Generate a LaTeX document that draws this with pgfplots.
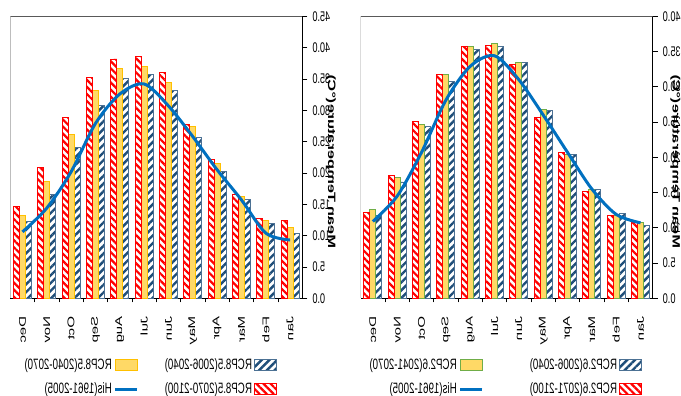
\documentclass[border=0pt]{standalone}
\usepackage{pgfplots}
\pgfplotsset{compat=1.18}
\usepackage{pgfplotstable}
\usepackage{graphicx}
\usepackage{fontspec}
\setmainfont{Liberation Sans}[FakeStretch=0.65]
\newfontfamily\plainsans{Liberation Sans}
\usetikzlibrary{patterns.meta}
\definecolor{hisblue}{HTML}{0070C0}
\definecolor{navy}{HTML}{1F4E79}
\definecolor{gold}{HTML}{FFD966}
\definecolor{goldedge}{HTML}{FFC000}
\definecolor{olive}{HTML}{70AD47}
\newcommand\sq[1]{\scalebox{1}[0.65]{#1}}

% RCP2.6 (left panel in original orientation)
\pgfplotstableread{
m  blue  yellow red   his
0  10.3  10.7   10.9  10.7
1  12.0  11.8   11.7  11.9
2  15.4  15.4   15.2  15.5
3  20.4  20.4   20.7  20.7
4  26.6  26.8   25.7  26.0
5  33.4  33.4   33.2  31.0
6  35.7  36.1   35.9  34.4
7  35.3  35.7   35.7  32.9
8  30.8  31.7   31.7  28.1
9  24.4  24.7   25.1  20.7
10 16.5  17.1   17.4  14.5
11 11.8  12.6   12.2  10.9
}\rcpA

% RCP8.5 (right panel in original orientation)
\pgfplotstableread{
m  blue  yellow red   his
0  10.3  11.3   12.4  9.3
1  12.0  12.4   12.8  10.4
2  15.8  16.2   16.6  15.7
3  20.2  21.5   22.1  20.5
4  25.7  27.4   27.8  25.8
5  33.2  34.4   36.1  30.7
6  35.7  37.0   38.6  34.2
7  35.1  36.7   38.2  32.6
8  30.8  33.2   35.3  27.9
9  24.0  26.2   28.9  20.2
10 16.5  18.7   20.9  14.4
11 12.2  13.2   14.6  10.6
}\rcpB

\pgfplotsset{
  mychart/.style={
    width=292bp, height=282bp, scale only axis,
    ybar=0pt, bar width=6bp,
    xmin=-0.5, xmax=11.5, ymin=0,
    xtick={0,...,11},
    xticklabels={\sq{Jan},\sq{Feb},\sq{Mar},\sq{Apr},\sq{May},\sq{Jun},\sq{Jul},\sq{Aug},\sq{Sep},\sq{Oct},\sq{Nov},\sq{Dec}},
    x tick label style={font=\plainsans\fontsize{15bp}{17bp}\selectfont, rotate=-90, anchor=west, inner sep=0pt},
    xticklabel shift=13bp,
    minor x tick num=1,
    major x tick style={draw=none},
    minor x tick style={black, line width=0.8bp},
    minor tick length=4bp,
    major tick length=5bp,
    major y tick style={black, line width=0.8bp, xshift=-5bp},
    y tick label style={font=\fontsize{14bp}{16bp}\selectfont, inner sep=0pt,
      /pgf/number format/.cd, fixed, fixed zerofill, precision=1, assume math mode=true},
    yticklabel shift=10bp,
    axis lines*=left,
    axis line style={black, line width=1bp},
    y label style={anchor=center,
      font=\plainsans\bfseries\fontsize{16.4bp}{18bp}\selectfont},
    legend columns=2,
    legend style={draw=none, fill=none, inner sep=0pt, row sep=8bp,
      at={(axis description cs:0,0)}, anchor=north west,
      font=\fontsize{15bp}{17bp}\selectfont,
      cells={anchor=west}},
  },
  redbar/.style={draw=red, line width=0.8bp,
    pattern={Lines[angle=-45,distance=5bp,line width=2.2bp]}, pattern color=red,
    legend image code/.code={\draw[##1] (0bp,-5.5bp) rectangle (22bp,5.5bp);}},
  bluebar/.style={draw=navy!80, line width=0.8bp,
    pattern={Lines[angle=45,distance=5.5bp,line width=2.4bp]}, pattern color=navy,
    legend image code/.code={\draw[##1] (0bp,-5.5bp) rectangle (22bp,5.5bp);}},
  hisline/.style={hisblue, line width=3bp, smooth, mark=none,
    legend image code/.code={\draw[hisblue, line width=3bp] (0bp,0bp) -- (22bp,0bp);}},
}

\begin{document}
\reflectbox{%
\begin{tikzpicture}
\useasboundingbox (0,0) rectangle (681bp,396bp);
% ---------------- RCP2.6 ----------------
\begin{axis}[mychart, at={(28.3bp,97.7bp)}, anchor=south west,
  ymax=40, ytick={0,5,...,40},
  ylabel={\sq{Mean Temperature(°C)}},
  y label style={at={(axis description cs:-0.078,0.485)}},
  legend style={xshift=10.7bp, yshift=-58bp,
    /tikz/every even column/.append style={column sep=44bp}},
  yellowbar/.style={fill=gold, draw=olive, line width=0.8bp,
    legend image code/.code={\draw[##1] (0bp,-5.5bp) rectangle (22bp,5.5bp);}},
]
\addplot[bluebar] table[x=m, y=blue] {\rcpA};
\addlegendentry{RCP2.6(2006-2040)}
\addplot[yellowbar] table[x=m, y=yellow] {\rcpA};
\addlegendentry{RCP2.6(2041-2070)}
\addplot[redbar] table[x=m, y=red] {\rcpA};
\addlegendentry{RCP2.6(2071-2100)}
\addplot[hisline] table[x=m, y=his] {\rcpA};
\addlegendentry{His(1961-2005)}
\draw[black!65, line width=1bp] (rel axis cs:0,1) -- (rel axis cs:1,1);
\draw[black!40, line width=0.8bp] (rel axis cs:1,1) -- (rel axis cs:1,0);
\end{axis}
% ---------------- RCP8.5 ----------------
\begin{axis}[mychart, at={(378.7bp,97.7bp)}, anchor=south west,
  ymax=45, ytick={0,5,...,45},
  ylabel={\sq{Mean Temperature(°C)}},
  y label style={at={(axis description cs:-0.0983,0.485)}},
  legend style={xshift=25.3bp, yshift=-58bp,
    /tikz/every even column/.append style={column sep=24bp}},
  yellowbar/.style={fill=gold, draw=goldedge, line width=0.8bp,
    legend image code/.code={\draw[##1] (0bp,-5.5bp) rectangle (22bp,5.5bp);}},
]
\addplot[bluebar] table[x=m, y=blue] {\rcpB};
\addlegendentry{RCP8.5(2006-2040)}
\addplot[yellowbar] table[x=m, y=yellow] {\rcpB};
\addlegendentry{RCP8.5(2040-2070)}
\addplot[redbar] table[x=m, y=red] {\rcpB};
\addlegendentry{RCP8.5(2070-2100)}
\addplot[hisline] table[x=m, y=his] {\rcpB};
\addlegendentry{His(1961-2005)}
\draw[black!65, line width=1bp] (rel axis cs:0,1) -- (rel axis cs:1,1);
\draw[black!40, line width=0.8bp] (rel axis cs:1,1) -- (rel axis cs:1,0);
\end{axis}
\end{tikzpicture}}
\end{document}
